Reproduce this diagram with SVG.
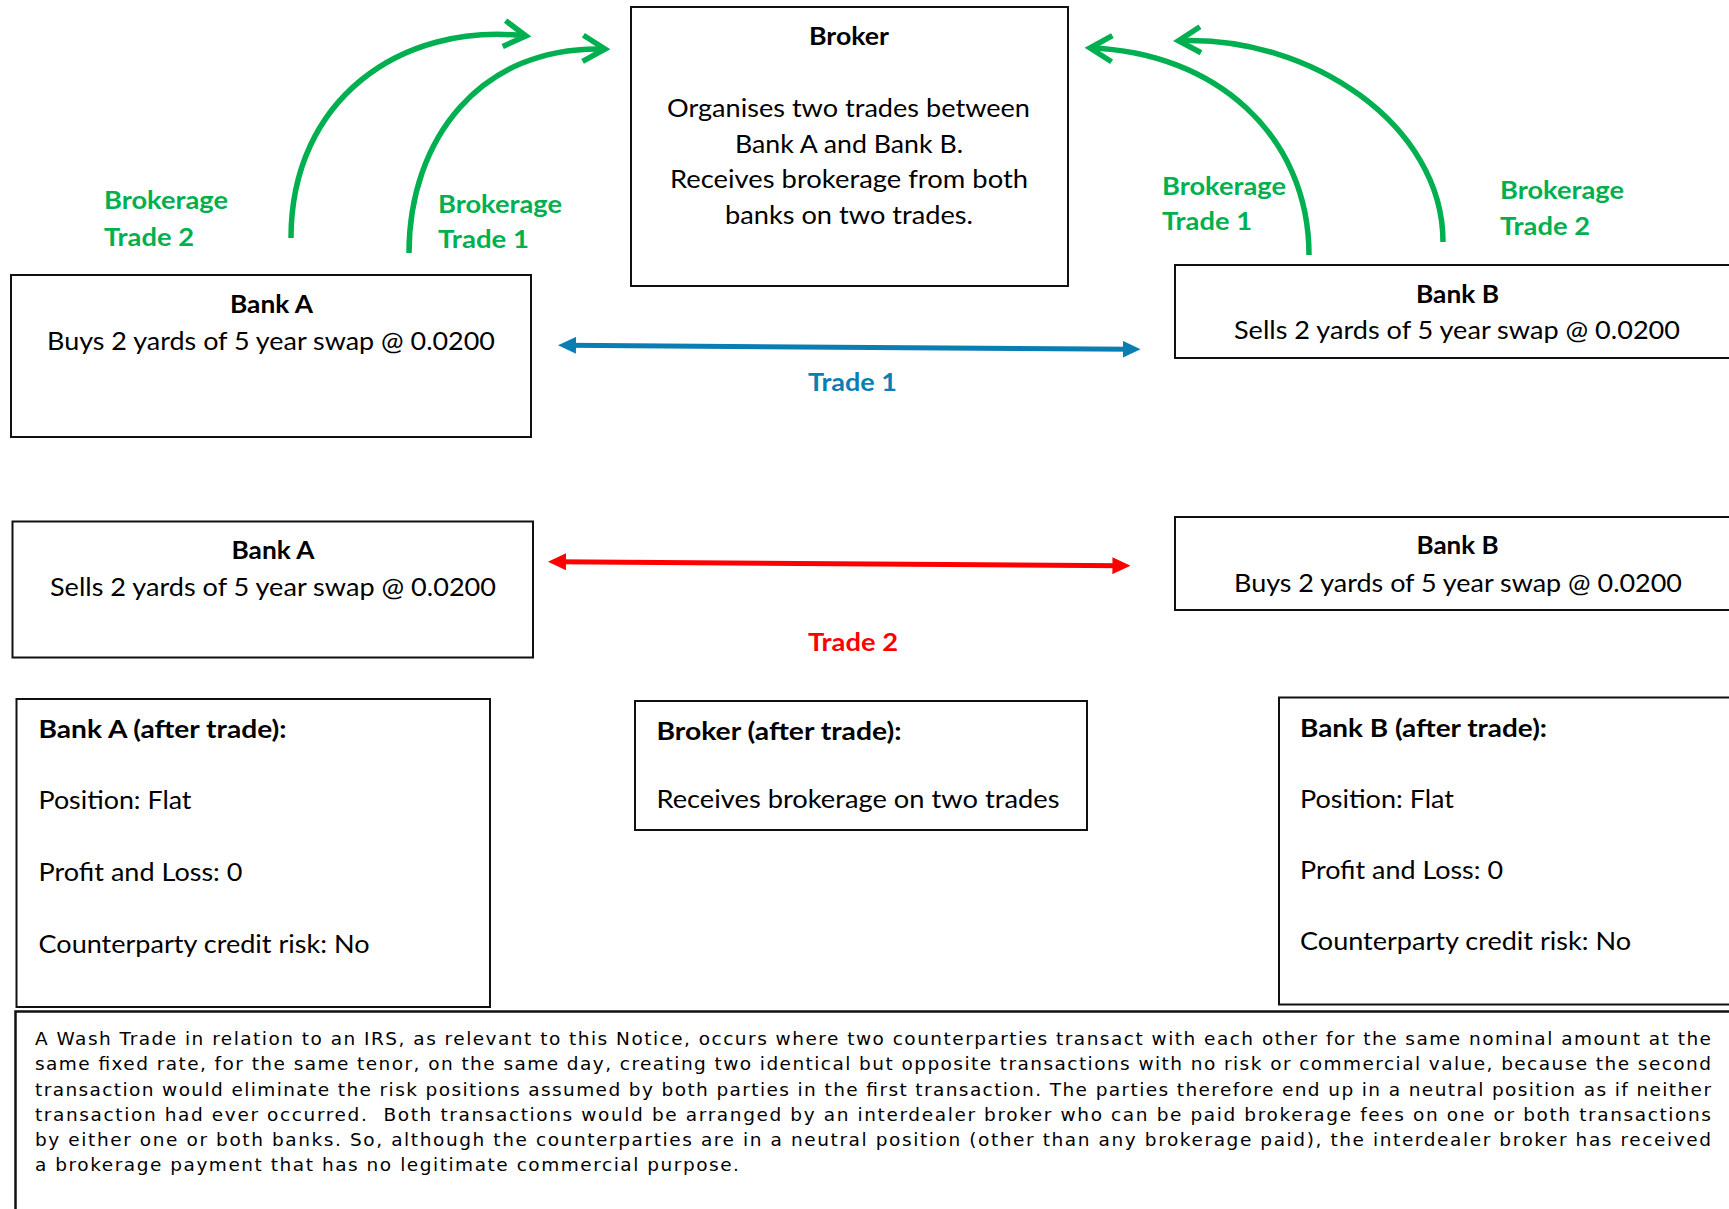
<svg xmlns="http://www.w3.org/2000/svg" width="1729" height="1209" viewBox="0 0 1729 1209">
<defs>
<style>
.box{fill:#fff;stroke:#111;stroke-width:2}
.t{font-family:Lato,"Open Sans","Liberation Sans",sans-serif;font-size:25px;fill:#000}
.b{font-weight:bold}
.g{fill:#00B050;font-weight:bold}
.para{font-family:"DejaVu Sans",Verdana,sans-serif;font-size:18.5px;fill:#000;white-space:pre}
.arc{fill:none;stroke:#00B050;stroke-width:5.5}
</style>
<marker id="chev" markerUnits="userSpaceOnUse" viewBox="-30 -20 40 40" markerWidth="40" markerHeight="40" refX="0" refY="0" orient="auto" overflow="visible">
<path d="M-22,-13 L0,0 L-22,13" fill="none" stroke="#00B050" stroke-width="5.5" stroke-linejoin="miter" stroke-linecap="butt"/>
</marker>
<marker id="headBlue" markerUnits="userSpaceOnUse" viewBox="0 0 18 17" markerWidth="18" markerHeight="17" refX="10" refY="8.5" orient="auto-start-reverse">
<path d="M0,0 L18,8.5 L0,17 z" fill="#0A7EB2"/>
</marker>
<marker id="headRed" markerUnits="userSpaceOnUse" viewBox="0 0 18 17" markerWidth="18" markerHeight="17" refX="10" refY="8.5" orient="auto-start-reverse">
<path d="M0,0 L18,8.5 L0,17 z" fill="#FF0000"/>
</marker>
</defs>
<rect width="1729" height="1209" fill="#fff"/>

<g id="broker">
<rect class="box" x="631" y="7" width="437" height="279"/>
<text class="t b" x="809" y="45" textLength="80" lengthAdjust="spacingAndGlyphs">Broker</text>
<text class="t" x="667" y="117" textLength="363" lengthAdjust="spacingAndGlyphs">Organises two trades between</text>
<text class="t" x="735" y="153" textLength="228" lengthAdjust="spacingAndGlyphs">Bank A and Bank B.</text>
<text class="t" x="670" y="188" textLength="358" lengthAdjust="spacingAndGlyphs">Receives brokerage from both</text>
<text class="t" x="725" y="224" textLength="248" lengthAdjust="spacingAndGlyphs">banks on two trades.</text>
</g>

<g id="bankA-trade1">
<rect class="box" x="11" y="275" width="520" height="162"/>
<text class="t b" x="230" y="313" textLength="83" lengthAdjust="spacingAndGlyphs">Bank A</text>
<text class="t" x="47" y="350" textLength="448" lengthAdjust="spacingAndGlyphs">Buys 2 yards of 5 year swap @ 0.0200</text>
</g>

<g id="bankB-trade1">
<rect class="box" x="1175" y="265" width="570" height="93"/>
<text class="t b" x="1416" y="303" textLength="83" lengthAdjust="spacingAndGlyphs">Bank B</text>
<text class="t" x="1234" y="339" textLength="446" lengthAdjust="spacingAndGlyphs">Sells 2 yards of 5 year swap @ 0.0200</text>
</g>

<g id="bankA-trade2">
<rect class="box" x="12.5" y="521.5" width="520.5" height="136"/>
<text class="t b" x="231.5" y="559" textLength="83" lengthAdjust="spacingAndGlyphs">Bank A</text>
<text class="t" x="50" y="596" textLength="446" lengthAdjust="spacingAndGlyphs">Sells 2 yards of 5 year swap @ 0.0200</text>
</g>

<g id="bankB-trade2">
<rect class="box" x="1175" y="517" width="570" height="93"/>
<text class="t b" x="1416.5" y="554" textLength="82" lengthAdjust="spacingAndGlyphs">Bank B</text>
<text class="t" x="1234" y="592" textLength="448" lengthAdjust="spacingAndGlyphs">Buys 2 yards of 5 year swap @ 0.0200</text>
</g>

<g id="bankA-after">
<rect class="box" x="16.5" y="699" width="473.5" height="308"/>
<text class="t b" x="38.5" y="738" textLength="248" lengthAdjust="spacingAndGlyphs">Bank A (after trade):</text>
<text class="t" x="38.5" y="809" textLength="153" lengthAdjust="spacingAndGlyphs">Position: Flat</text>
<text class="t" x="38.5" y="881" textLength="204" lengthAdjust="spacingAndGlyphs">Profit and Loss: 0</text>
<text class="t" x="38.5" y="953" textLength="331" lengthAdjust="spacingAndGlyphs">Counterparty credit risk: No</text>
</g>

<g id="broker-after">
<rect class="box" x="635" y="701" width="452" height="129"/>
<text class="t b" x="656.5" y="740" textLength="245" lengthAdjust="spacingAndGlyphs">Broker (after trade):</text>
<text class="t" x="656.5" y="808" textLength="403" lengthAdjust="spacingAndGlyphs">Receives brokerage on two trades</text>
</g>

<g id="bankB-after">
<rect class="box" x="1279" y="697.5" width="470" height="307"/>
<text class="t b" x="1300" y="737" textLength="247" lengthAdjust="spacingAndGlyphs">Bank B (after trade):</text>
<text class="t" x="1300" y="808" textLength="154" lengthAdjust="spacingAndGlyphs">Position: Flat</text>
<text class="t" x="1300" y="879" textLength="203" lengthAdjust="spacingAndGlyphs">Profit and Loss: 0</text>
<text class="t" x="1300" y="950" textLength="331" lengthAdjust="spacingAndGlyphs">Counterparty credit risk: No</text>
</g>

<g id="note">
<rect x="15.5" y="1011.5" width="1730" height="250" fill="#fff" stroke="#111" stroke-width="2.5"/>
<text class="para" x="35" y="1045" textLength="1676" lengthAdjust="spacing">A Wash Trade in relation to an IRS, as relevant to this Notice, occurs where two counterparties transact with each other for the same nominal amount at the</text>
<text class="para" x="35" y="1070" textLength="1676" lengthAdjust="spacing">same fixed rate, for the same tenor, on the same day, creating two identical but opposite transactions with no risk or commercial value, because the second</text>
<text class="para" x="35" y="1095.5" textLength="1676" lengthAdjust="spacing">transaction would eliminate the risk positions assumed by both parties in the first transaction. The parties therefore end up in a neutral position as if neither</text>
<text class="para" x="35" y="1120.5" textLength="1676" lengthAdjust="spacing">transaction had ever occurred.  Both transactions would be arranged by an interdealer broker who can be paid brokerage fees on one or both transactions</text>
<text class="para" x="35" y="1146" textLength="1676" lengthAdjust="spacing">by either one or both banks. So, although the counterparties are in a neutral position (other than any brokerage paid), the interdealer broker has received</text>
<text class="para" x="35" y="1171" textLength="704" lengthAdjust="spacing">a brokerage payment that has no legitimate commercial purpose.</text>
</g>

<g id="connectors">
<path class="arc" d="M291,238 C291,100 400,22 526,36" marker-end="url(#chev)"/>
<path class="arc" d="M409,253 C409,140 480,45 605,49" marker-end="url(#chev)"/>
<path class="arc" d="M1309,255 C1309,135 1215,52 1090,48" marker-end="url(#chev)"/>
<path class="arc" d="M1443,242 C1443,125 1310,35 1178.5,40.7" marker-end="url(#chev)"/>
<line x1="566" y1="345.3" x2="1132.6" y2="349.3" stroke="#0A7EB2" stroke-width="5" marker-start="url(#headBlue)" marker-end="url(#headBlue)"/>
<line x1="556" y1="561.7" x2="1122.4" y2="565.7" stroke="#FF0000" stroke-width="5" marker-start="url(#headRed)" marker-end="url(#headRed)"/>
</g>

<g id="labels">
<text class="t g" x="104" y="209" textLength="124" lengthAdjust="spacingAndGlyphs">Brokerage</text>
<text class="t g" x="104" y="246" textLength="90" lengthAdjust="spacingAndGlyphs">Trade 2</text>
<text class="t g" x="438" y="213" textLength="124" lengthAdjust="spacingAndGlyphs">Brokerage</text>
<text class="t g" x="438" y="248" textLength="91" lengthAdjust="spacingAndGlyphs">Trade 1</text>
<text class="t g" x="1162" y="195" textLength="124" lengthAdjust="spacingAndGlyphs">Brokerage</text>
<text class="t g" x="1162" y="230" textLength="90" lengthAdjust="spacingAndGlyphs">Trade 1</text>
<text class="t g" x="1500" y="199" textLength="124" lengthAdjust="spacingAndGlyphs">Brokerage</text>
<text class="t g" x="1500" y="235" textLength="90" lengthAdjust="spacingAndGlyphs">Trade 2</text>
<text class="t b" x="808" y="391" textLength="89" lengthAdjust="spacingAndGlyphs" style="fill:#0A7EB2">Trade 1</text>
<text class="t b" x="808" y="651" textLength="90" lengthAdjust="spacingAndGlyphs" style="fill:#FF0000">Trade 2</text>
</g>
</svg>
